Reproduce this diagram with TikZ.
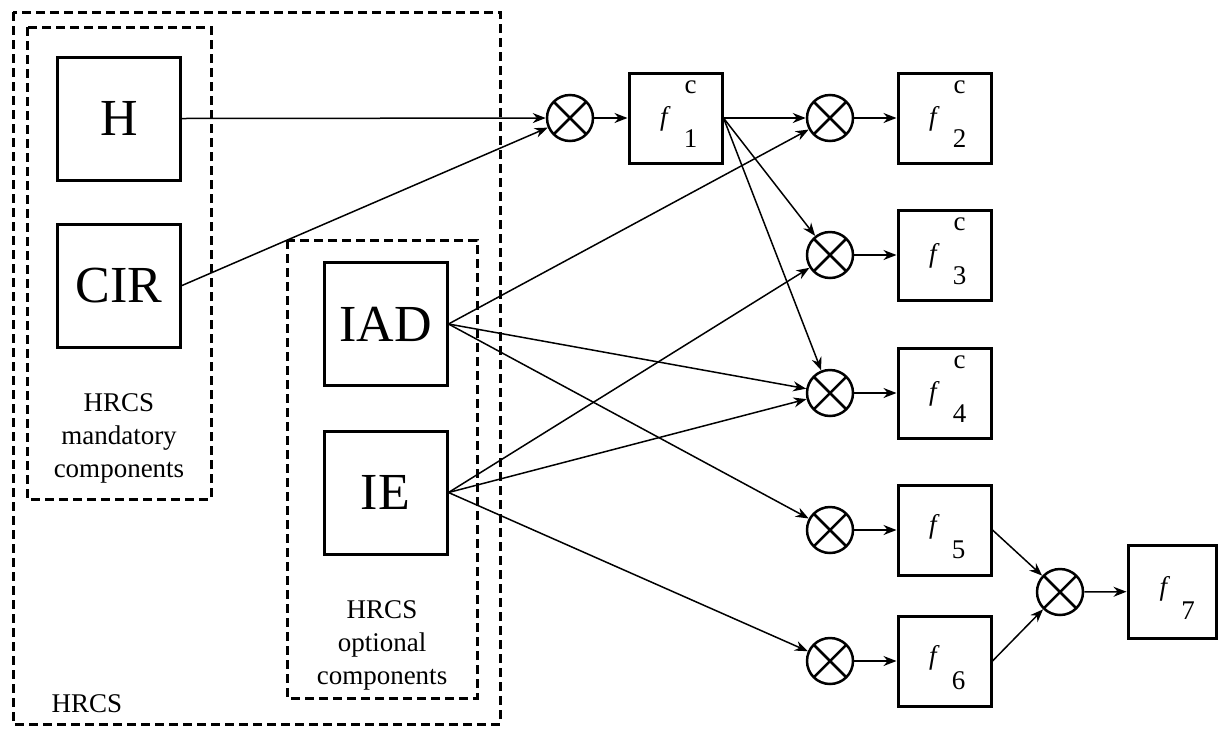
\documentclass[tikz,border=0pt]{standalone}
\usepackage{fontspec}
\setmainfont{Liberation Serif}
\usetikzlibrary{arrows.meta}
\begin{document}
\begin{tikzpicture}[x=1pt,y=-1pt,
  blk/.style={draw, line width=3pt, minimum width=123pt, minimum height=123pt, inner sep=0pt, font=\fontsize{52}{60}\selectfont},
  fb/.style={draw, line width=3pt, minimum width=93pt, minimum height=90pt, inner sep=0pt},
  mult/.style={circle, draw, line width=2.5pt, minimum size=46pt, inner sep=0pt,
    path picture={\draw[line width=2.5pt] (path picture bounding box.north west) -- (path picture bounding box.south east) (path picture bounding box.north east) -- (path picture bounding box.south west);}},
  grp/.style={draw, line width=3pt, dash pattern=on 9pt off 5pt},
  lbl/.style={font=\fontsize{27}{33}\selectfont, align=center, inner sep=0pt},
  sym/.style={font=\fontsize{27}{30}\selectfont, inner sep=0pt},
  con/.style={line width=1.5pt, -{Stealth[length=13pt,width=10pt]}}
]
\useasboundingbox (0,0) rectangle (1218,729);

% group boxes
\draw[grp] (13,12) rectangle (500,724);
\draw[grp] (27,27) rectangle (211,499);
\draw[grp] (287,240) rectangle (477,698);

% group labels
\node[lbl] (mandlbl) at (119,438) {HRCS\\mandatory\\components};
\node[lbl] (optlbl) at (382,645) {HRCS\\optional\\components};
\node[lbl] (hrcslbl) at (87,704) {HRCS};

% components
\node[blk] (H) at (119,118.5) {H};
\node[blk] (CIR) at (119,285.5) {CIR};
\node[blk] (IAD) at (385.5,324) {IAD};
\node[blk] (IE) at (385.5,492.5) {IE};

% multipliers
\node[mult] (c1) at (570,118) {};
\node[mult] (c2) at (830,118) {};
\node[mult] (c3) at (830,255) {};
\node[mult] (c4) at (830,393) {};
\node[mult] (c5) at (830,530) {};
\node[mult] (c6) at (830,661) {};
\node[mult] (c7) at (1060,592) {};

% feature boxes
\node[fb] (f1) at (675.5,118) {};
\node[fb] (f2) at (944.5,118) {};
\node[fb] (f3) at (944.5,255) {};
\node[fb] (f4) at (944.5,393) {};
\node[fb] (f5) at (944.5,530) {};
\node[fb] (f6) at (944.5,661) {};
\node[fb, minimum width=88pt, minimum height=93pt] (f7) at (1172,591.5) {};

% feature labels
\foreach \i in {1,2,3,4}{
  \node[sym] (f\i f) at ([shift={(-10,1)}]f\i.center) {\textit{f}};
  \node[sym] (f\i c) at ([shift={(15,-31)}]f\i.center) {c};
  \node[sym] (f\i s) at ([shift={(15,21)}]f\i.center) {\i};
}
\foreach \i in {5,6}{
  \node[sym] (f\i f) at ([shift={(-10,-3)}]f\i.center) {\textit{f}};
  \node[sym] (f\i s) at ([shift={(14,20)}]f\i.center) {\i};
}
\node[sym] (f7f) at ([shift={(-7,-3)}]f7.center) {\textit{f}};
\node[sym] (f7s) at ([shift={(16,19)}]f7.center) {7};

% connectors
\draw[con] (H.east) -- (c1);
\draw[con] (CIR.east) -- (c1);
\draw[con] (c1) -- (f1);
\draw[con] (f1.east) -- (c2);
\draw[con] (f1.east) -- (c3);
\draw[con] (f1.east) -- (c4);
\draw[con] (IAD.east) -- (c2);
\draw[con] (IAD.east) -- (c4);
\draw[con] (IAD.east) -- (c5);
\draw[con] (IE.east) -- (c3);
\draw[con] (IE.east) -- (c4);
\draw[con] (IE.east) -- (c6);
\draw[con] (c2) -- (f2);
\draw[con] (c3) -- (f3);
\draw[con] (c4) -- (f4);
\draw[con] (c5) -- (f5);
\draw[con] (c6) -- (f6);
\draw[con] (f5.east) -- (c7);
\draw[con] (f6.east) -- (c7);
\draw[con] (c7) -- (f7);
\end{tikzpicture}
\end{document}
